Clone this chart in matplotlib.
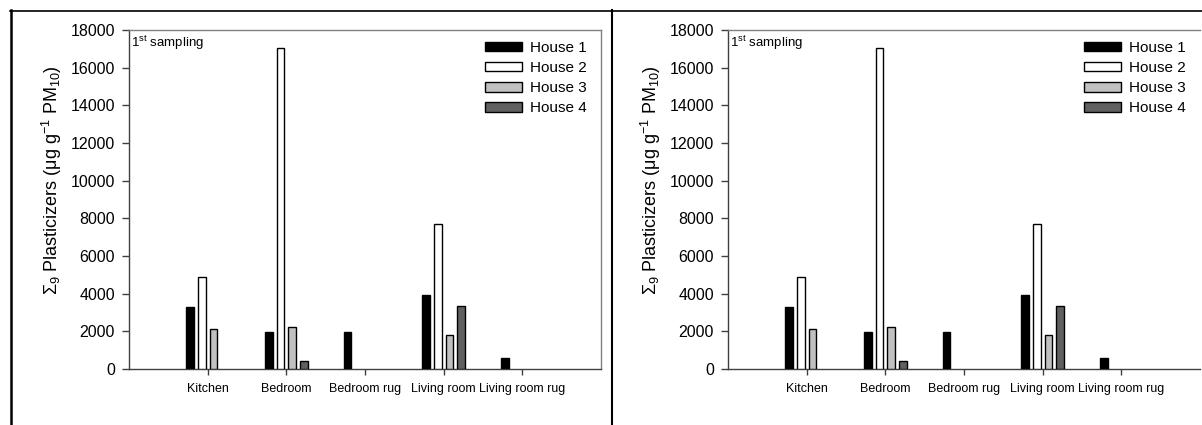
import matplotlib
matplotlib.use('Agg')
import matplotlib.pyplot as plt
import numpy as np
from matplotlib.lines import Line2D

plt.rcParams['font.family'] = ['Liberation Sans', 'DejaVu Sans']
plt.rcParams['mathtext.default'] = 'regular'

# ---- data ----
categories = ['Kitchen', 'Bedroom', 'Bedroom rug', 'Living room', 'Living room rug']
series_names = ['House 1', 'House 2', 'House 3', 'House 4']
house1 = [3300, 1950, 1970, 3950, 580]
house2 = [4900, 17050, 0, 7700, 0]
house3 = [2130, 2250, 0, 1800, 0]
house4 = [0, 450, 0, 3350, 0]
yticks = [0, 2000, 4000, 6000, 8000, 10000, 12000, 14000, 16000, 18000]
ylabel = r'Σ$_{9}$ Plasticizers (μg g$^{-1}$ PM$_{10}$)'
note = r'1$^{st}$ sampling'

colors = ['#000000', '#ffffff', '#c0c0c0', '#606060']

W, H = 1202, 425
fig = plt.figure(figsize=(W / 100, H / 100), dpi=100)


def px_rect(l, t, r, b):
    return [l / W, 1 - b / H, (r - l) / W, (b - t) / H]


panels = [(129, 30, 601, 369), (728, 30, 1200, 369)]
series = [house1, house2, house3, house4]
x = np.arange(1, len(categories) + 1)
step = 0.149
bw = 0.098

for i, (l, t, r, b) in enumerate(panels):
    ax = fig.add_axes(px_rect(l, t, r, b))
    for k, (vals, c, name) in enumerate(zip(series, colors, series_names)):
        v = np.asarray(vals, dtype=float)
        m = v > 0
        ax.bar((x + (k - 1.5) * step)[m], v[m], width=bw, color=c,
               edgecolor='black', linewidth=1.0, label=name, zorder=3)
    ax.set_xlim(0, 6)
    ax.set_ylim(0, 18000)
    ax.set_yticks(yticks)
    ax.set_yticklabels([str(v) for v in yticks])
    ax.set_xticks(x)
    ax.set_xticklabels(categories)
    ax.tick_params(axis='y', direction='out', length=5, width=1,
                   pad=5, labelsize=11.5, color='#404040')
    ax.tick_params(axis='x', direction='out', length=4, width=1,
                   pad=6, labelsize=9, color='#404040')
    ax.spines['left'].set_color('#404040')
    ax.spines['bottom'].set_color('#404040')
    ax.spines['top'].set_color('#808080')
    ax.spines['right'].set_color('#808080')
    for s in ax.spines.values():
        s.set_linewidth(1.0)
    if i == 1:
        ax.spines['right'].set_visible(False)
    ax.text(0.004, 0.988, note, transform=ax.transAxes, ha='left', va='top',
            fontsize=9.5)
    leg = ax.legend(loc='upper right', bbox_to_anchor=(0.970, 0.968),
                    frameon=False, fontsize=11, borderpad=0,
                    borderaxespad=0, handlelength=2.4, handleheight=0.6,
                    handletextpad=0.55, labelspacing=0.4)
    fig.text((l - 77) / W, 1 - 180.5 / H, ylabel, rotation=90,
             ha='center', va='center', fontsize=13)

# outer frame lines
fig.add_artist(Line2D([11 / W, 11 / W], [1 - 10 / H, 0], color='black',
                      linewidth=1.8, transform=fig.transFigure))
fig.add_artist(Line2D([10 / W, 1], [1 - 10.5 / H, 1 - 10.5 / H], color='black',
                      linewidth=1.2, transform=fig.transFigure))
fig.add_artist(Line2D([612 / W, 612 / W], [1 - 10 / H, 0], color='black',
                      linewidth=1.5, transform=fig.transFigure))

fig.savefig('out.png', dpi=100)
